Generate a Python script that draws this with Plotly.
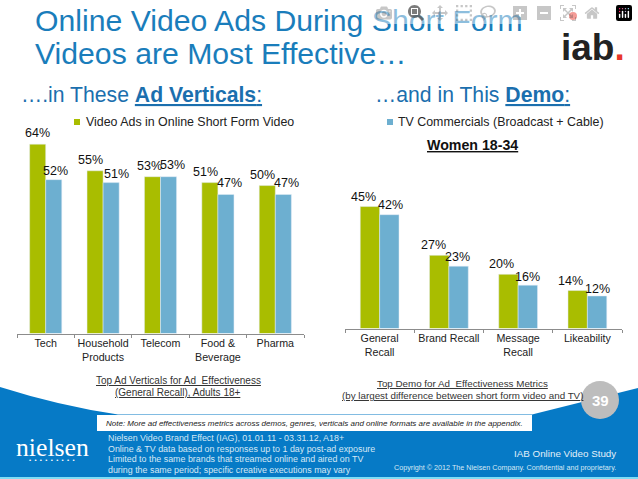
import plotly.graph_objects as go

verticals = ["Tech", "Household<br>Products", "Telecom", "Food &<br>Beverage", "Pharma"]
verticals_online = [64, 55, 53, 51, 50]
verticals_tv = [52, 51, 53, 47, 47]

metrics = ["General<br>Recall", "Brand Recall", "Message<br>Recall", "Likeability"]
metrics_online = [45, 27, 20, 14]
metrics_tv = [42, 23, 16, 12]

GREEN = "#A9BD00"
BLUE = "#6DAFD0"
FOOT_BLUE = "#067AC6"
W, H = 638, 479
FONT = "Liberation Sans"


def px(x):
    return x / W


def py(y):
    return 1 - y / H


fig = go.Figure()

fig.add_trace(go.Bar(x=verticals, y=verticals_online, marker_color=GREEN, xaxis="x", yaxis="y", showlegend=False))
fig.add_trace(go.Bar(x=verticals, y=verticals_tv, marker_color=BLUE, xaxis="x", yaxis="y", showlegend=False))
fig.add_trace(go.Bar(x=metrics, y=metrics_online, marker_color=GREEN, xaxis="x2", yaxis="y2", showlegend=False))
fig.add_trace(go.Bar(x=metrics, y=metrics_tv, marker_color=BLUE, xaxis="x2", yaxis="y2", showlegend=False))

annotations = []


def text(x, y, s, size, color="#222222", anchor="center", family=FONT):
    annotations.append(dict(x=px(x), y=py(y), xref="paper", yref="paper", text=s, showarrow=False,
                            xanchor=anchor, yanchor="middle", align=anchor,
                            font=dict(family=family, size=size, color=color)))


def value_labels(cats, vals, xax, yax, xshifts, yshifts):
    for c, v, dx, dy in zip(cats, vals, xshifts, yshifts):
        annotations.append(dict(x=c, y=v, xref=xax, yref=yax, text=f"{v}%", showarrow=False,
                                xshift=dx, yshift=dy, font=dict(family=FONT, size=12.5, color="#111111")))


value_labels(verticals, verticals_online, "x", "y", [-8, -13, -11, -12, -13], [11, 11, 11, 11, 11])
value_labels(verticals, verticals_tv, "x", "y", [10, 13, 12, 12, 11], [9, 9, 12, 11, 11])
value_labels(metrics, metrics_online, "x2", "y2", [-16, -15, -17, -17], [10, 10, 10, 10])
value_labels(metrics, metrics_tv, "x2", "y2", [11, 9, 9, 10], [10, 9, 8, 7])

# titles
text(33, 21, "Online Video Ads During Short Form", 30.2, "#1A7DBB", "left")
text(33, 54, "Videos are Most Effective…", 30.2, "#1A7DBB", "left")
text(19, 94, "….in These <b><u>Ad Verticals</u></b><u>:</u>", 21.2, "#1B6FAE", "left")
text(373, 94, "…and in This <b><u>Demo</u></b><u>:</u>", 21.2, "#1B6FAE", "left")

# legend entries
text(84, 122, "Video Ads in Online Short Form Video", 12.4, "#222222", "left")
text(396, 122, "TV Commercials (Broadcast + Cable)", 12.4, "#222222", "left")
text(472, 145, "<b><u>Women 18-34</u></b>", 14.2, "#111111")

# captions
text(178, 380, "<u>Top Ad Verticals for Ad  Effectiveness</u>", 10, "#333333")
text(178, 392, "<u>(General Recall), Adults 18+</u>", 10, "#333333")
text(462, 383, "<u>Top Demo for Ad  Effectiveness Metrics</u>", 9.8, "#333333")
text(462, 395, "<u>(by largest difference between short form video and TV)</u>", 9.8, "#333333")

# footer
text(104, 423, "<i>Note: More ad effectiveness metrics across demos, genres, verticals and online formats are available in the appendix.</i>", 8, "#222222", "left")
foot_lines = ["Nielsen Video Brand Effect (IAG), 01.01.11 - 03.31.12, A18+",
              "Online & TV data based on responses up to 1 day post-ad exposure",
              "Limited to the same brands that streamed online and aired on TV",
              "during the same period; specific creative executions may vary"]
for y, line in zip([438, 449, 459, 470], foot_lines):
    text(106, y, line, 8.9, "#D5E8F5", "left")
text(618, 453, "IAB Online Video Study", 9.8, "#E3F0F9", "right")
text(618, 467, "Copyright © 2012 The Nielsen Company. Confidential and proprietary.", 7.2, "#D5E8F5", "right")
text(52, 447, "nielsen", 25.7, "#FFFFFF", family="Liberation Serif")
text(52, 460, "•  •  •  •  •  •  •  •  •", 6, "#FFFFFF")
text(600, 400, "<b>39</b>", 15, "#FFFFFF")

# iab logo
annotations.append(dict(x=px(627), y=py(25), xref="paper", yref="paper", xanchor="right",
                        text="<b>iab<span style='color:#E8372C'>.</span></b>", showarrow=False,
                        font=dict(family=FONT, size=37, color="#222222")))

shapes = [
    dict(type="path", xref="paper", yref="paper", layer="below", line_width=0, fillcolor=FOOT_BLUE,
         path=f"M {px(0)} {py(387)} Q {px(60)} {py(406)} {px(118)} {py(414.5)} L {px(532)} {py(414.5)} "
              f"L {px(638)} {py(388)} L {px(638)} {py(477)} L {px(0)} {py(477)} Z"),
    dict(type="rect", xref="paper", yref="paper", layer="below", line_width=0, fillcolor="#FFFFFF",
         x0=px(97), x1=px(532), y0=py(431), y1=py(415)),
    dict(type="rect", xref="paper", yref="paper", layer="below", line_width=0, fillcolor="#7FDDF5",
         x0=0, x1=1, y0=0, y1=py(477)),
    dict(type="circle", xref="paper", yref="paper", layer="below", line=dict(width=0), fillcolor="#BDBDBD",
         x0=px(581), x1=px(619), y0=py(419), y1=py(381)),
    dict(type="circle", xref="paper", yref="paper", line_width=0, fillcolor="#E8372C",
         x0=px(569), x1=px(577), y0=py(20), y1=py(12)),
    dict(type="rect", xref="paper", yref="paper", line_width=0, fillcolor=GREEN,
         x0=px(74), x1=px(80), y0=py(125), y1=py(119)),
    dict(type="rect", xref="paper", yref="paper", line_width=0, fillcolor=BLUE,
         x0=px(387), x1=px(393), y0=py(125), y1=py(119)),
]

axis_common = dict(showgrid=False, showline=True, linecolor="#8C8C8C", linewidth=1, ticks="outside",
                   tickcolor="#8C8C8C", ticklen=3, tickson="boundaries", tickangle=0,
                   tickfont=dict(family=FONT, size=10.7, color="#222222"))
yaxis_common = dict(visible=False, showgrid=False, zeroline=False)

fig.update_layout(
    width=W, height=H,
    margin=dict(l=0, r=0, t=0, b=0),
    paper_bgcolor="#FFFFFF",
    plot_bgcolor="rgba(0,0,0,0)",
    barmode="group",
    bargap=0.44,
    bargroupgap=0,
    xaxis=dict(domain=[px(17), px(304)], anchor="y", **axis_common),
    yaxis=dict(domain=[py(333.5), py(133.5)], range=[0, 67.6], **yaxis_common),
    xaxis2=dict(domain=[px(345), px(622)], anchor="y2", **axis_common),
    yaxis2=dict(domain=[py(328.5), py(193)], range=[0, 50], **yaxis_common),
    annotations=annotations,
    shapes=shapes,
)
# page margin would push the figure off the window
fig.write_html("out.html", post_script="document.body.style.margin='0';document.body.style.overflow='hidden';")
